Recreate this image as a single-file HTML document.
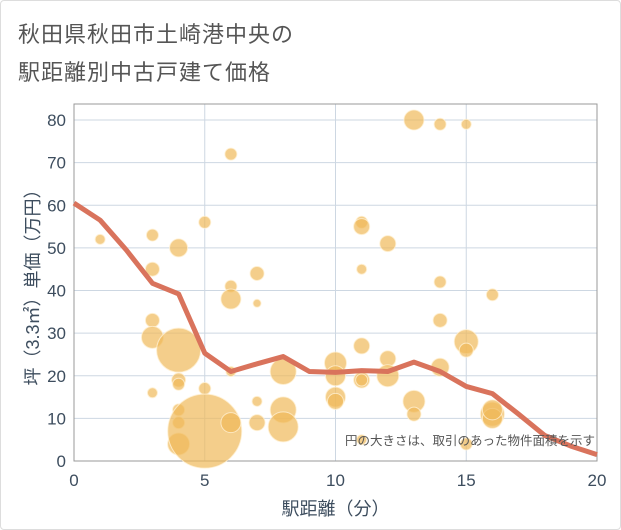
<!DOCTYPE html>
<html><head><meta charset="utf-8"><style>
body{margin:0;background:#fff;}
#wrap{position:relative;width:621px;height:530px;overflow:hidden;background:#fff;border:1px solid #ddd;box-sizing:border-box;border-radius:4px}
.title{position:absolute;left:17px;font:22px "Liberation Sans","Noto Sans CJK JP",sans-serif;color:#555;letter-spacing:1px}
svg text{font-family:"Liberation Sans","Noto Sans CJK JP",sans-serif}
</style></head><body>
<div id="wrap">
<div class="title" style="top:16px">秋田県秋田市土崎港中央の</div>
<div class="title" style="top:54px">駅距離別中古戸建て価格</div>
<svg id="chart" width="621" height="530" style="position:absolute;left:0;top:0"></svg>
</div>
<script>
const lineX=[0,1,2,3,4,5,6,7,8,9,10,11,12,13,14,15,16,17,18,19,20];
const lineY=[60.5,56.5,49.5,41.7,39.2,25.3,21,22.8,24.5,21,20.8,21.2,21,23.2,21,17.5,15.8,11,6,3.5,1.5];
const bubX=[1,3,3,3,3,3,4,4,4,4,4,4,4,5,5,5,6,6,6,6,6,7,7,7,7,8,8,8,10,10,10,10,11,11,11,11,11,11,11,12,12,12,13,13,13,14,14,14,14,15,15,15,15,16,16,16,16];
const bubY=[52,53,45,33,29,16,50,26,19,18,12,9,4,56,17,7,72,41,38,21,9,44,37,14,9,21,12,8,23,20,15,14,56,55,45,27,19,19,5,51,24,20,80,14,11,79,42,33,22,79,28,26,4,39,11,10,12];
const bubR=[5,6,7,7,11,5,9,22,7,6,6,6,11,6,6,37,6,6,10,5,10,7,4,5,8,13,13,15,11,10,10,8,6,8,5,8,8,6,5,8,8,11,10,11,7,6,6,7,9,5,12,7,6,6,12,10,10];
const xTicks=[0,5,10,15,20];
const yTicks=[0,10,20,30,40,50,60,70,80];
const L=73,R=596,T=103,B=460;
const sx=v=>L+(R-L)*v/20, sy=v=>B-(460-119)*v/80;
const svg=document.getElementById('chart');
const NS='http://www.w3.org/2000/svg';
function mk(t,a){const e=document.createElementNS(NS,t);for(const k in a)e.setAttribute(k,a[k]);svg.appendChild(e);return e;}
yTicks.forEach(v=>{const g=mk('line',{x1:L,x2:R,y1:sy(v),y2:sy(v),stroke:'#cdd7e2','stroke-width':1});


const t=mk('text',{x:L-8,y:sy(v)+6,'text-anchor':'end','font-size':17,fill:'#3d4d5e'});t.textContent=v;

});
xTicks.forEach(v=>{const g=mk('line',{x1:sx(v),x2:sx(v),y1:T,y2:B,stroke:'#cdd7e2','stroke-width':1});


const t=mk('text',{x:sx(v),y:B+25,'text-anchor':'middle','font-size':17,fill:'#3d4d5e'});t.textContent=v;

});
const fr=mk('rect',{x:L,y:T,width:R-L,height:B-T,fill:'none',stroke:'#999','stroke-width':1});


bubX.forEach((x,i)=>{const c=mk('circle',{cx:sx(x),cy:sy(bubY[i]),r:bubR[i],fill:'rgba(240,185,90,0.7)',stroke:'rgba(255,240,210,0.8)','stroke-width':1});

});
const pl=mk('polyline',{points:lineX.map((x,i)=>sx(x)+','+sy(lineY[i])).join(' '),fill:'none',stroke:'#d9735c','stroke-width':5,'stroke-linejoin':'round'});


const note=mk('text',{x:594,y:444,'text-anchor':'end','font-size':12.5,fill:'#555'});note.textContent='円の大きさは、取引のあった物件面積を示す';


const xt=mk('text',{x:(L+R)/2,y:514,'text-anchor':'middle','font-size':18,fill:'#3d4d5e'});xt.textContent='駅距離（分）';


const yt=mk('text',{x:0,y:0,'text-anchor':'middle','font-size':18,fill:'#3d4d5e',transform:'translate(38,282) rotate(-90)'});yt.textContent='坪（3.3㎡）単価（万円）';


</script>
</body></html>
